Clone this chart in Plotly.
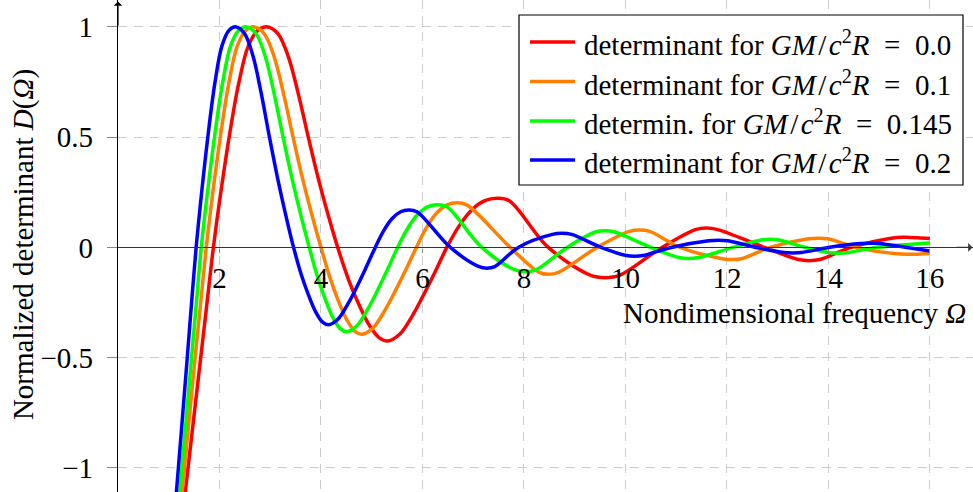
import plotly.graph_objects as go

# Normalized determinant D(Omega) for four compactness values GM/c^2R
omega_red = [1.14, 1.38, 1.63, 1.755, 1.88, 2.02, 2.19, 2.38, 2.57, 2.76,
             2.95, 3.15, 3.35, 3.55, 3.75, 3.95, 4.15, 4.33, 4.55, 4.75,
             4.95, 5.15, 5.32, 5.55, 5.80, 6.03, 6.26, 6.48, 6.73, 6.98,
             7.23, 7.47, 7.71, 8.48, 9.32, 9.60, 9.88, 10.72, 11.38, 11.60,
             11.82, 12.74, 13.41, 13.62, 13.83, 14.45, 15.24, 15.50, 15.76, 16.0]
d_red = [-1.48, -1.0, -0.5, -0.25, 0.0, 0.24, 0.50, 0.745, 0.915, 0.985,
         1.0, 0.97, 0.87, 0.70, 0.50, 0.31, 0.14, 0.0, -0.15, -0.26,
         -0.352, -0.41, -0.424, -0.394, -0.31, -0.212, -0.106, 0.0, 0.10, 0.172,
         0.212, 0.223, 0.212, 0.0, -0.127, -0.137, -0.127, 0.0, 0.081, 0.088,
         0.081, 0.0, -0.055, -0.060, -0.055, 0.0, 0.042, 0.046, 0.044, 0.040]

omega_orange = [1.10, 1.31, 1.52, 1.63, 1.74, 1.864, 2.016, 2.184, 2.353, 2.521,
                2.69, 2.88, 3.07, 3.26, 3.45, 3.64, 3.83, 4.00, 4.18, 4.343,
                4.507, 4.671, 4.81, 5.022, 5.253, 5.465, 5.677, 5.88, 6.082, 6.284,
                6.486, 6.68, 6.874, 7.73, 8.30, 8.49, 8.68, 9.44, 10.08, 10.28,
                10.48, 11.08, 11.91, 12.10, 12.29, 12.85, 13.61, 13.80, 13.99, 14.55,
                15.34, 15.60, 16.0]
d_orange = [-1.5, -1.0, -0.5, -0.25, 0.0, 0.24, 0.5, 0.745, 0.915, 0.985,
            1.0, 0.97, 0.87, 0.70, 0.50, 0.31, 0.14, 0.0, -0.139, -0.242,
            -0.327, -0.381, -0.394, -0.366, -0.288, -0.197, -0.099, 0.0, 0.091, 0.157,
            0.193, 0.203, 0.193, 0.0, -0.113, -0.122, -0.113, 0.0, 0.073, 0.079,
            0.073, 0.0, -0.051, -0.055, -0.051, 0.0, 0.039, 0.042, 0.039, 0.0,
            -0.029, -0.031, -0.027]

omega_green = [1.05, 1.26, 1.45, 1.545, 1.64, 1.758, 1.901, 2.06, 2.22, 2.38,
               2.54, 2.718, 2.897, 3.075, 3.253, 3.432, 3.61, 3.77, 3.934, 4.084,
               4.233, 4.383, 4.51, 4.708, 4.924, 5.122, 5.32, 5.51, 5.707, 5.904,
               6.101, 6.29, 6.48, 7.17, 7.825, 8.03, 8.235, 8.85, 9.41, 9.60,
               9.79, 10.50, 11.06, 11.25, 11.44, 12.12, 12.675, 12.85, 13.025, 13.55,
               14.04, 14.20, 14.36, 14.95, 16.0]
d_green = [-1.55, -1.0, -0.5, -0.25, 0.0, 0.24, 0.5, 0.745, 0.915, 0.985,
           1.0, 0.97, 0.87, 0.70, 0.50, 0.31, 0.14, 0.0, -0.135, -0.234,
           -0.317, -0.369, -0.382, -0.355, -0.279, -0.191, -0.096, 0.0, 0.086, 0.149,
           0.184, 0.193, 0.184, 0.0, -0.102, -0.110, -0.102, 0.0, 0.070, 0.076,
           0.070, 0.0, -0.046, -0.050, -0.046, 0.0, 0.034, 0.037, 0.034, 0.0,
           -0.024, -0.026, -0.024, 0.0, 0.020]

omega_blue = [1.00, 1.19, 1.365, 1.45, 1.54, 1.644, 1.77, 1.909, 2.05, 2.19,
              2.33, 2.494, 2.658, 2.822, 2.985, 3.149, 3.313, 3.46, 3.613, 3.753,
              3.892, 4.031, 4.15, 4.332, 4.531, 4.713, 4.895, 5.07, 5.237, 5.403,
              5.57, 5.73, 5.89, 6.55, 7.115, 7.27, 7.425, 7.89, 8.56, 8.75,
              8.94, 9.52, 10.015, 10.18, 10.345, 10.90, 11.64, 11.83, 12.02, 12.58,
              13.125, 13.30, 13.475, 14.00, 14.64, 14.82, 15.00, 15.55, 16.0]
d_blue = [-1.53, -1.0, -0.5, -0.25, 0.0, 0.24, 0.5, 0.745, 0.915, 0.985,
          1.0, 0.97, 0.87, 0.70, 0.50, 0.31, 0.14, 0.0, -0.124, -0.215,
          -0.291, -0.339, -0.351, -0.326, -0.256, -0.176, -0.088, 0.0, 0.076, 0.131,
          0.162, 0.170, 0.162, 0.0, -0.087, -0.094, -0.087, 0.0, 0.059, 0.064,
          0.059, 0.0, -0.037, -0.040, -0.037, 0.0, 0.030, 0.033, 0.030, 0.0,
          -0.023, -0.025, -0.023, 0.0, 0.018, 0.019, 0.018, 0.0, -0.016]

EQ = "\u2002=\u2002"
MATH = "<i>GM</i>\u200a/\u200a<i>c</i><sup>2</sup><i>R</i>"
series_names = [
    "determinant for " + MATH + EQ + "0.0",
    "determinant for " + MATH + EQ + "0.1",
    "determin. for " + MATH + EQ + "0.145",
    "determinant for " + MATH + EQ + "0.2",
]
series_colors = ["#ff0000", "#ff8000", "#00ff00", "#0000ff"]

x_ticks = [2, 4, 6, 8, 10, 12, 14, 16]
y_ticks = [-1, -0.5, 0, 0.5, 1]
y_tick_text = ["\u22121", "\u22120.5", "0", "0.5", "1"]

W, H = 973, 492
LEFT = 118
X_RANGE = [0, 16.85]
Y_RANGE = [-1.109, 1.122]
FONT = "Liberation Serif, Times New Roman, serif"
FS = 29


def px_x(p):
    """Pixel column -> paper x."""
    return (p - LEFT) / (W - LEFT)


def px_y(p):
    """Pixel row -> paper y."""
    return (H - p) / H


curves = [(omega_red, d_red), (omega_orange, d_orange),
          (omega_green, d_green), (omega_blue, d_blue)]
for xs, ys in curves:
    assert len(xs) == len(ys), (len(xs), len(ys))

fig = go.Figure()
for (xs, ys), name, color in zip(curves, series_names, series_colors):
    fig.add_trace(go.Scatter(
        x=xs, y=ys, mode="lines", name=name, showlegend=False,
        line=dict(color=color, width=3.5, shape="spline", smoothing=1.0),
    ))

zero_pos = (0 - Y_RANGE[0]) / (Y_RANGE[1] - Y_RANGE[0])

fig.update_layout(
    width=W, height=H,
    margin=dict(l=LEFT, r=0, t=0, b=0),
    paper_bgcolor="white", plot_bgcolor="white",
    font=dict(family=FONT, size=FS, color="black"),
    xaxis=dict(
        range=X_RANGE, tickvals=x_ticks, ticktext=[str(v) for v in x_ticks],
        showgrid=True, gridcolor="#cccccc", gridwidth=1, griddash="9px,7px",
        zeroline=False, showline=True, linecolor="#333333", linewidth=1.2,
        anchor="free", position=zero_pos,
        ticks="outside", ticklen=4, tickcolor="#888888",
        ticklabelstandoff=1,
        tickfont=dict(family=FONT, size=FS, color="black"),
    ),
    yaxis=dict(
        range=Y_RANGE, tickvals=y_ticks, ticktext=y_tick_text,
        showgrid=True, gridcolor="#cccccc", gridwidth=1, griddash="9px,7px",
        zeroline=False, showline=True, linecolor="black", linewidth=1.2,
        ticks="outside", ticklen=10, tickcolor="#888888",
        ticklabelstandoff=8,
        tickfont=dict(family=FONT, size=FS, color="black"),
    ),
)

# Legend: framed box, line samples and labels
fig.add_shape(type="rect", xref="paper", yref="paper",
              x0=px_x(519), x1=px_x(963), y0=px_y(185), y1=px_y(15),
              line=dict(color="black", width=1.2), fillcolor="white", layer="above")
row_y = [42, 81.5, 121, 160]
for ry, name, color in zip(row_y, series_names, series_colors):
    fig.add_shape(type="line", xref="paper", yref="paper",
                  x0=px_x(530), x1=px_x(575), y0=px_y(ry), y1=px_y(ry),
                  line=dict(color=color, width=3.5), layer="above")
    fig.add_annotation(x=px_x(582), y=px_y(ry + 1), xref="paper", yref="paper",
                       xanchor="left", yanchor="middle", showarrow=False, text=name,
                       font=dict(family=FONT, size=FS, color="black"))

# Axis arrows and axis titles
fig.add_annotation(x=0, y=1.115, ax=0, ay=1.0, xref="x", yref="y", axref="x", ayref="y",
                   showarrow=True, arrowhead=1, arrowsize=1.2, arrowwidth=1.2,
                   arrowcolor="black", text="")
fig.add_annotation(x=16.84, y=0, ax=16.5, ay=0, xref="x", yref="y", axref="x", ayref="y",
                   showarrow=True, arrowhead=1, arrowsize=1.2, arrowwidth=1.2,
                   arrowcolor="#333333", text="")
fig.add_annotation(x=16.75, y=-0.297, xref="x", yref="y", xanchor="right", yanchor="middle",
                   showarrow=False, text="Nondimensional frequency <i>\u03a9</i>",
                   font=dict(family=FONT, size=FS, color="black"))
fig.add_annotation(x=-0.111, y=0.011, xref="paper", yref="y", xanchor="center", yanchor="middle",
                   textangle=-90, showarrow=False,
                   text="Normalized determinant <i>D</i>(<i>\u03a9</i>)",
                   font=dict(family=FONT, size=FS, color="black"))

fig.write_html("out.html")
